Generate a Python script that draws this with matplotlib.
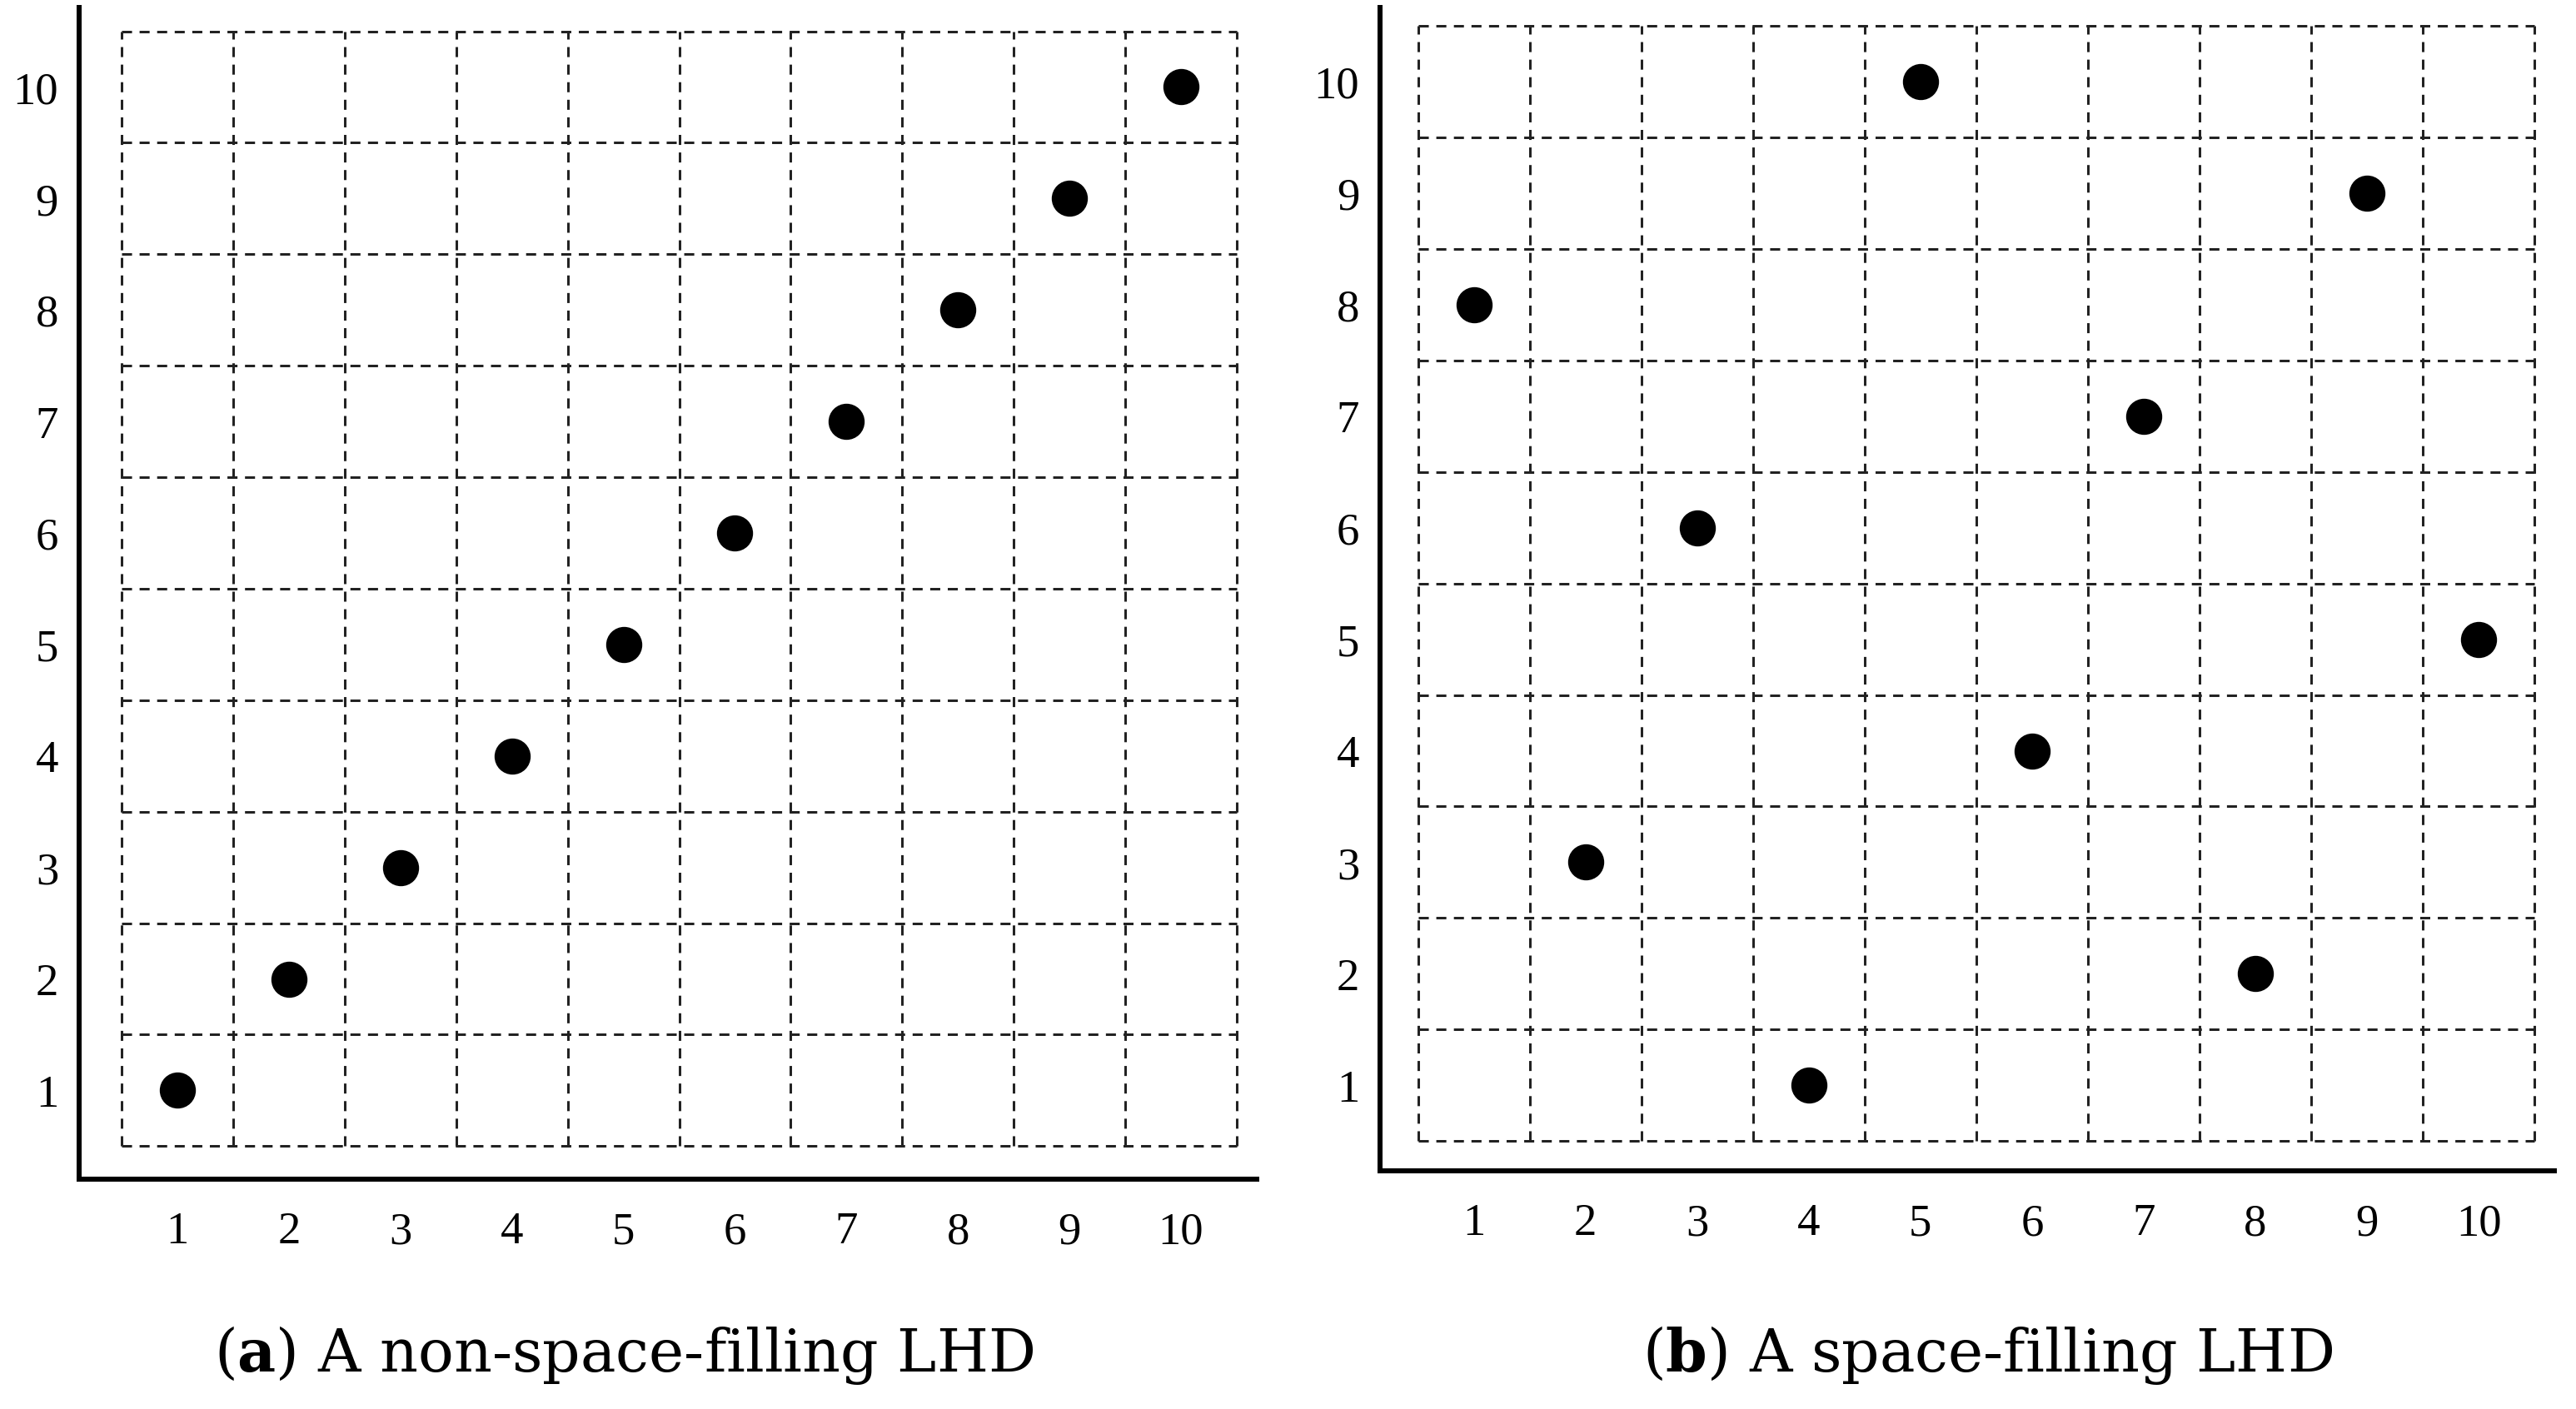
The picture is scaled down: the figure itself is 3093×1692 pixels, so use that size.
import matplotlib
matplotlib.use("Agg")
import matplotlib.pyplot as plt
import numpy as np

levels = list(range(1, 11))
a_x = [1, 2, 3, 4, 5, 6, 7, 8, 9, 10]
a_y = [1, 2, 3, 4, 5, 6, 7, 8, 9, 10]
b_x = [1, 2, 3, 4, 5, 6, 7, 8, 9, 10]
b_y = [8, 3, 6, 1, 10, 4, 7, 2, 9, 5]
captions = [("a", " A non-space-filling LHD"), ("b", " A space-filling LHD")]

W, H = 1568, 858
fig = plt.figure(figsize=(W/100, H/100), dpi=3093/(W/100))

def make(rect, xs, ys, xlim, ylim):
    l, t, r, b = rect
    ax = fig.add_axes([l/W, 1-b/H, (r-l)/W, (b-t)/H])
    ax.set_xlim(*xlim); ax.set_ylim(*ylim)
    for s in ["top", "right"]:
        ax.spines[s].set_visible(False)
    for s in ["left", "bottom"]:
        ax.spines[s].set_linewidth(2.2)
    edges = np.arange(0.5, 11, 1.0)
    for e in edges:
        ax.plot([e, e], [0.5, 10.5], ls=(0, (4, 3)), color="#222", lw=1.1)
        ax.plot([0.5, 10.5], [e, e], ls=(0, (4, 3)), color="#222", lw=1.1)
    ax.scatter(xs, ys, s=220, color="black", zorder=3)
    ax.set_xticks(levels); ax.set_yticks(levels)
    ax.tick_params(length=0, labelsize=20)
    ax.tick_params(axis="x", pad=14)
    ax.tick_params(axis="y", pad=9)
    for lab in ax.get_xticklabels() + ax.get_yticklabels():
        lab.set_fontfamily("Liberation Serif")
    return ax

make((48, 5, 765, 718), a_x, a_y, (0.116, 10.68), (0.205, 10.71))
make((840, 5, 1555, 713), b_x, b_y, (0.16, 10.68), (0.234, 10.66))

for (letter, rest), cx in zip(captions, [380, 1210]):
    fig.text(cx/W, 1-825/H, r"($\mathbf{" + letter + "}$)" + rest,
             ha="center", va="center", fontsize=26, family="DejaVu Serif",
             math_fontfamily="dejavuserif")

fig.savefig("out.png")
